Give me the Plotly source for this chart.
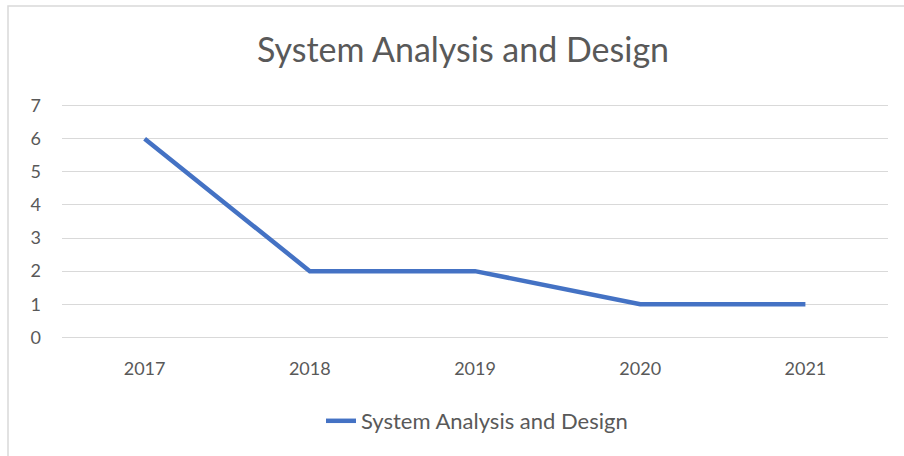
import plotly.graph_objects as go

years = ["2017", "2018", "2019", "2020", "2021"]
values = [6, 2, 2, 1, 1]
series_name = "System Analysis and Design"
title_text = "System Analysis and Design"

W, H = 904, 456
L, R, T, B = 62, 16, 104, 117
pw, ph = W - L - R, H - T - B

def px_x(p):
    return (p - L) / pw

def px_y(p):
    return (H - B - p) / ph

fig = go.Figure()
fig.add_trace(go.Scatter(
    x=years, y=values, mode="lines", name=series_name,
    line=dict(color="#4472C4", width=4.5),
))

font_family = "Lato, 'Open Sans', sans-serif"
fig.update_layout(
    width=W, height=H,
    margin=dict(l=L, r=R, t=T, b=B),
    paper_bgcolor="white", plot_bgcolor="white",
    title=dict(text=title_text, xref="container", x=463 / W, xanchor="center",
               y=1 - 50 / H, yanchor="middle",
               font=dict(family=font_family, size=34, color="#595959")),
    showlegend=True,
    legend=dict(orientation="h", x=px_x(477), xanchor="center", y=px_y(421), yanchor="middle",
                font=dict(family=font_family, size=22, color="#595959")),
    xaxis=dict(type="category", range=[-0.5, 4.5], showgrid=False, showline=False, zeroline=False,
               ticks="", ticklabelstandoff=17,
               tickfont=dict(family=font_family, size=18, color="#595959")),
    yaxis=dict(range=[-0.05, 7.05], dtick=1, showgrid=True, gridcolor="#d9d9d9", gridwidth=1.3,
               zeroline=False, showline=False, ticks="", ticklabelstandoff=20,
               tickfont=dict(family=font_family, size=18, color="#595959")),
    shapes=[dict(type="rect", xref="paper", yref="paper",
                 x0=px_x(8), x1=px_x(915), y0=px_y(470), y1=px_y(6),
                 line=dict(color="#d9d9d9", width=1.5), fillcolor="rgba(0,0,0,0)", layer="below")],
)

fig.write_html("out.html")
